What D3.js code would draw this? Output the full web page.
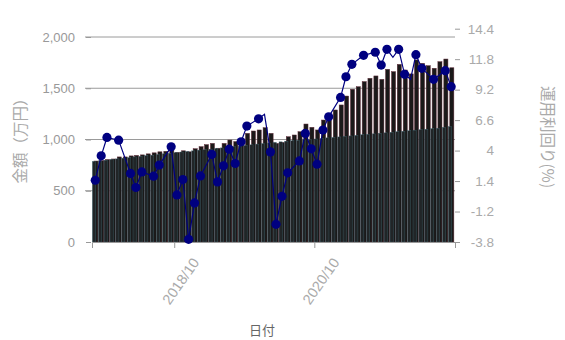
<!DOCTYPE html>
<html>
<head>
<meta charset="utf-8">
<script src="https://cdn.jsdelivr.net/npm/d3@7"></script>
<style>
  body { margin: 0; background: #fff; }
  svg text { font-family: "Liberation Sans", Arial, sans-serif; }
  .cjk { font-family: "Noto Sans CJK JP", sans-serif; }
</style>
</head>
<body>
<div id="chart-area"></div>
<script>
// months (yyyy/mm)
const months = [
  "2017/08","2017/09","2017/10","2017/11","2017/12",
  "2018/01","2018/02","2018/03","2018/04","2018/05","2018/06","2018/07","2018/08","2018/09","2018/10","2018/11","2018/12",
  "2019/01","2019/02","2019/03","2019/04","2019/05","2019/06","2019/07","2019/08","2019/09","2019/10","2019/11","2019/12",
  "2020/01","2020/02","2020/03","2020/04","2020/05","2020/06","2020/07","2020/08","2020/09","2020/10","2020/11","2020/12",
  "2021/01","2021/02","2021/03","2021/04","2021/05","2021/06","2021/07","2021/08","2021/09","2021/10","2021/11","2021/12",
  "2022/01","2022/02","2022/03","2022/04","2022/05","2022/06","2022/07","2022/08","2022/09"
];

// 評価額 (万円)
const valuation = [
  790, 795, 805, 810, 830, 830, 840, 845, 850, 860, 870, 880, 885, 898, 875, 890, 880,
  910, 930, 950, 962, 915, 962, 995, 980, 1012, 1060, 1083, 1093,
  1115, 1060, 962, 972, 1027, 1044, 1076, 1151, 1119, 1093, 1190, 1222,
  1288, 1337, 1424, 1490, 1515, 1565, 1597, 1620, 1587, 1685, 1662, 1733,
  1678, 1640, 1776, 1743, 1720, 1695, 1759, 1785, 1700
];

// 元本 (万円)
const principal = [
  785, 792, 798, 806, 811, 818, 823, 830, 835, 842, 847, 853, 860, 865, 871, 878, 883,
  889, 896, 900, 906, 913, 918, 924, 931, 936, 942, 948, 955,
  960, 966, 972, 977, 984, 988, 992, 997, 1000, 1005, 1010, 1016,
  1020, 1025, 1031, 1035, 1040, 1046, 1050, 1055, 1061, 1065, 1070, 1076,
  1080, 1085, 1091, 1095, 1100, 1106, 1110, 1118, 1125
];

// 運用利回り (%) ; null = no point that month
const rate = [
  1.47, 3.55, 5.12, null, 4.89, null, 2.05, 0.85, 2.18, null, 1.82, 2.76, null, 4.32, 0.22, 1.53, -3.57,
  -0.47, 1.84, null, 3.67, 1.33, 2.7, 4.12, 2.9, 4.75, 6.09, null, 6.71,
  7.09, 3.89, -2.29, 0.1, 2.1, null, 3.12, 5.46, 4.15, 2.84, 5.75, 6.88,
  null, 8.54, 10.3, 11.36, null, 12.13, null, 12.39, 11.3, 12.64, 11.96, 12.64,
  10.51, 10.08, 12.18, 11.02, null, 10.08, null, 10.82, 9.45
];
// points drawn without a marker
const noMarker = ["2020/01", "2021/11", "2022/02"];

const leftTicks = [0, 500, 1000, 1500, 2000];
const rightTicks = [-3.8, -1.2, 1.4, 4, 6.6, 9.2, 11.8, 14.4];
const xTicks = ["2018/10", "2020/10"];

const W = 565, H = 340;
const plotLeft = 91, plotRight = 455, plotTop = 37, plotBottom = 242;

const parseMonth = d3.timeParse("%Y/%m");
const mid = s => d3.timeDay.offset(parseMonth(s), 14);

const data = months.map((m, i) => ({
  month: m, date: mid(m), value: valuation[i], principal: principal[i], rate: rate[i]
}));

const svg = d3.select("#chart-area").append("svg")
  .attr("width", W).attr("height", H);

const x = d3.scaleTime()
  .domain([new Date(2017, 6, 29), new Date(2022, 9, 5)])
  .range([plotLeft + 1, plotRight]);

const y = d3.scaleLinear().domain([0, 2000]).range([plotBottom, plotTop]);
const y2 = d3.scaleLinear().domain([-3.8, 14.4]).range([plotBottom, 28.7]);

// gridlines
svg.append("g").selectAll("line")
  .data(leftTicks.slice(1))
  .enter().append("line")
    .attr("x1", plotLeft - 6).attr("x2", plotRight)
    .attr("y1", d => y(d)).attr("y2", d => y(d))
    .attr("stroke", "#9a9a9a").attr("stroke-width", 1);

// bars
const bars = svg.append("g");
bars.selectAll("rect.value")
  .data(data)
  .enter().append("rect")
    .attr("class", "value")
    .attr("x", d => x(d.date) - 1.4)
    .attr("width", 4.1)
    .attr("y", d => y(d.value))
    .attr("height", d => plotBottom - y(d.value))
    .attr("fill", "#1a1919")
    .attr("stroke", "#5e2b38").attr("stroke-width", 0.5);

bars.selectAll("rect.principal")
  .data(data)
  .enter().append("rect")
    .attr("class", "principal")
    .attr("x", d => x(d.date) - 2.9)
    .attr("width", 3.2)
    .attr("y", d => y(d.principal))
    .attr("height", d => plotBottom - y(d.principal))
    .attr("fill", "#212527")
    .attr("stroke", "#3f6670").attr("stroke-width", 0.4);

// left axis
const yAxis = svg.append("g")
  .attr("transform", "translate(" + plotLeft + ",0)")
  .call(d3.axisLeft(y).tickValues(leftTicks).tickFormat(d3.format(",")).tickSize(5).tickPadding(11));
yAxis.select(".domain").remove();
yAxis.selectAll("line").attr("stroke", "#999");
yAxis.selectAll("text").attr("fill", "#999").attr("font-size", "13px");

// right axis
const y2Axis = svg.append("g")
  .attr("transform", "translate(" + plotRight + ",0)")
  .call(d3.axisRight(y2).tickValues(rightTicks).tickFormat(d => String(d)).tickSize(5));
y2Axis.select(".domain").remove();
y2Axis.selectAll("line").attr("stroke", "#999");
y2Axis.selectAll("text")
  .attr("x", 39).attr("text-anchor", "end")
  .attr("fill", "#aaa").attr("font-size", "13.5px");

// bottom axis
const xAxis = svg.append("g")
  .attr("transform", "translate(0," + plotBottom + ")")
  .call(d3.axisBottom(x).tickValues(xTicks.map(parseMonth))
    .tickFormat(d3.timeFormat("%Y/%m")).tickSize(6));
xAxis.select(".domain").attr("stroke", "#999");
xAxis.selectAll("line").attr("stroke", "#999");
xAxis.selectAll("text")
  .attr("fill", "#aaa").attr("font-size", "14.5px")
  .attr("text-anchor", "middle")
  .attr("y", 0).attr("dy", "0.35em")
  .attr("transform", "translate(6,39) rotate(-55)");

// line (rate)
const pts = data.filter(d => d.rate !== null);
const line = d3.line().x(d => x(d.date)).y(d => y2(d.rate));
svg.append("path")
  .datum(pts)
  .attr("d", line)
  .attr("fill", "none")
  .attr("stroke", "#000080").attr("stroke-width", 1.2);

svg.append("g").selectAll("circle")
  .data(pts.filter(d => noMarker.indexOf(d.month) < 0))
  .enter().append("circle")
    .attr("cx", d => x(d.date))
    .attr("cy", d => y2(d.rate))
    .attr("r", 4.6)
    .attr("fill", "#000080");

// titles
svg.append("text")
  .attr("class", "cjk")
  .attr("transform", "translate(21,137) rotate(-90)")
  .attr("text-anchor", "middle").attr("dy", "0.35em")
  .attr("fill", "#aaa").attr("font-size", "15.5px")
  .text("金額（万円）");

svg.append("text")
  .attr("class", "cjk")
  .attr("transform", "translate(547,137) rotate(90)")
  .attr("text-anchor", "middle").attr("dy", "0.35em")
  .attr("fill", "#aaa").attr("font-size", "15.5px")
  .text("運用利回り(%)");

svg.append("text")
  .attr("class", "cjk")
  .attr("x", 262).attr("y", 335)
  .attr("text-anchor", "middle")
  .attr("fill", "#666").attr("font-size", "13px")
  .text("日付");
</script>
</body>
</html>
